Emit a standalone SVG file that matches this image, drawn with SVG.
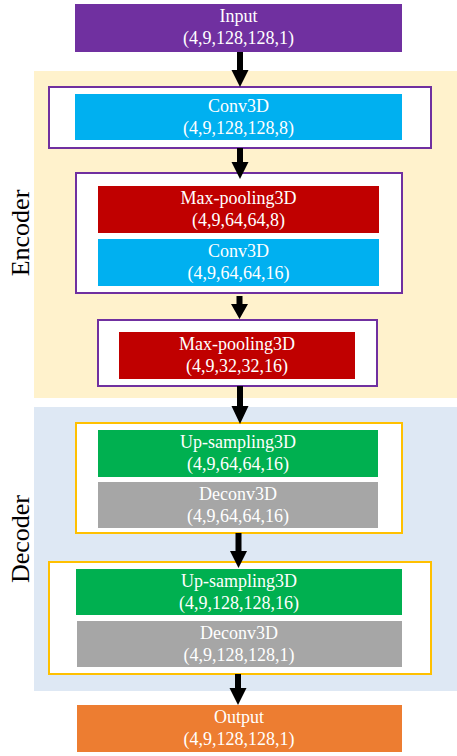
<svg xmlns="http://www.w3.org/2000/svg" width="457" height="756" viewBox="0 0 457 756">
<style>
text{font-family:"Liberation Serif","Times New Roman",serif;}
.t{fill:#fff;font-size:18px;text-anchor:middle;}
.lab{fill:#000;font-size:26px;text-anchor:middle;}
.po{fill:#fff;stroke:#7030A0;stroke-width:2;}
.oo{fill:#fff;stroke:#FFC000;stroke-width:2;}
.arr{fill:#000;}
</style>
<rect x="0" y="0" width="457" height="756" fill="#fff"/>
<g id="encoder-bg"><rect x="34" y="71" width="423" height="327" fill="#FFF2CC"/>
<text class="lab" transform="translate(29,233) rotate(-90)">Encoder</text></g>
<g id="decoder-bg"><rect x="34" y="407" width="423" height="284" fill="#DEE8F4"/>
<text class="lab" transform="translate(29,539) rotate(-90)">Decoder</text></g>

<g id="input"><rect x="75" y="4" width="327" height="48" fill="#7030A0"/>
<text class="t" x="238.5" y="22">Input</text><text class="t" x="238.5" y="44">(4,9,128,128,1)</text></g>

<g id="enc1"><rect class="po" x="49" y="87" width="382" height="61"/>
<rect x="75" y="94" width="327" height="46" fill="#00B0F0"/>
<text class="t" x="238.5" y="112">Conv3D</text><text class="t" x="238.5" y="134">(4,9,128,128,8)</text></g>

<g id="enc2"><rect class="po" x="76" y="173" width="326" height="120"/>
<rect x="98" y="186" width="281" height="47" fill="#C00000"/>
<text class="t" x="238.5" y="204">Max-pooling3D</text><text class="t" x="238.5" y="226">(4,9,64,64,8)</text>
<rect x="98" y="239" width="281" height="47" fill="#00B0F0"/>
<text class="t" x="238.5" y="257">Conv3D</text><text class="t" x="238.5" y="279">(4,9,64,64,16)</text></g>

<g id="enc3"><rect class="po" x="98" y="320" width="279" height="66"/>
<rect x="119" y="332" width="236" height="47" fill="#C00000"/>
<text class="t" x="237" y="350">Max-pooling3D</text><text class="t" x="237" y="372">(4,9,32,32,16)</text></g>

<g id="dec1"><rect class="oo" x="76" y="423" width="326" height="110"/>
<rect x="98" y="430" width="280" height="47" fill="#00B050"/>
<text class="t" x="238" y="448">Up-sampling3D</text><text class="t" x="238" y="470">(4,9,64,64,16)</text>
<rect x="98" y="482" width="280" height="46" fill="#A6A6A6"/>
<text class="t" x="238" y="500">Deconv3D</text><text class="t" x="238" y="522">(4,9,64,64,16)</text></g>

<g id="dec2"><rect class="oo" x="49" y="562" width="382" height="112"/>
<rect x="76" y="569" width="326" height="46" fill="#00B050"/>
<text class="t" x="239" y="587">Up-sampling3D</text><text class="t" x="239" y="609">(4,9,128,128,16)</text>
<rect x="77" y="621" width="325" height="46" fill="#A6A6A6"/>
<text class="t" x="239" y="639">Deconv3D</text><text class="t" x="239" y="661">(4,9,128,128,1)</text></g>

<g id="output"><rect x="77" y="705" width="325" height="47" fill="#ED7D31"/>
<text class="t" x="239" y="723">Output</text><text class="t" x="239" y="745">(4,9,128,128,1)</text></g>

<g id="connectors">
<polygon class="arr" points="237,52 243,52 243,70 248.5,70 240,87 231.5,70 237,70"/>
<polygon class="arr" points="237,148 243,148 243,162 248.5,162 240,179 231.5,162 237,162"/>
<polygon class="arr" points="236.5,296 242.5,296 242.5,304 248,304 239.5,319 231,304 236.5,304"/>
<polygon class="arr" points="237,386 243,386 243,406 248.5,406 240,424 231.5,406 237,406"/>
<polygon class="arr" points="235.5,533 241.5,533 241.5,551 247,551 238.5,568 230,551 235.5,551"/>
<polygon class="arr" points="235,674 241,674 241,688 246.5,688 238,705 229.5,688 235,688"/>
</g>
</svg>
